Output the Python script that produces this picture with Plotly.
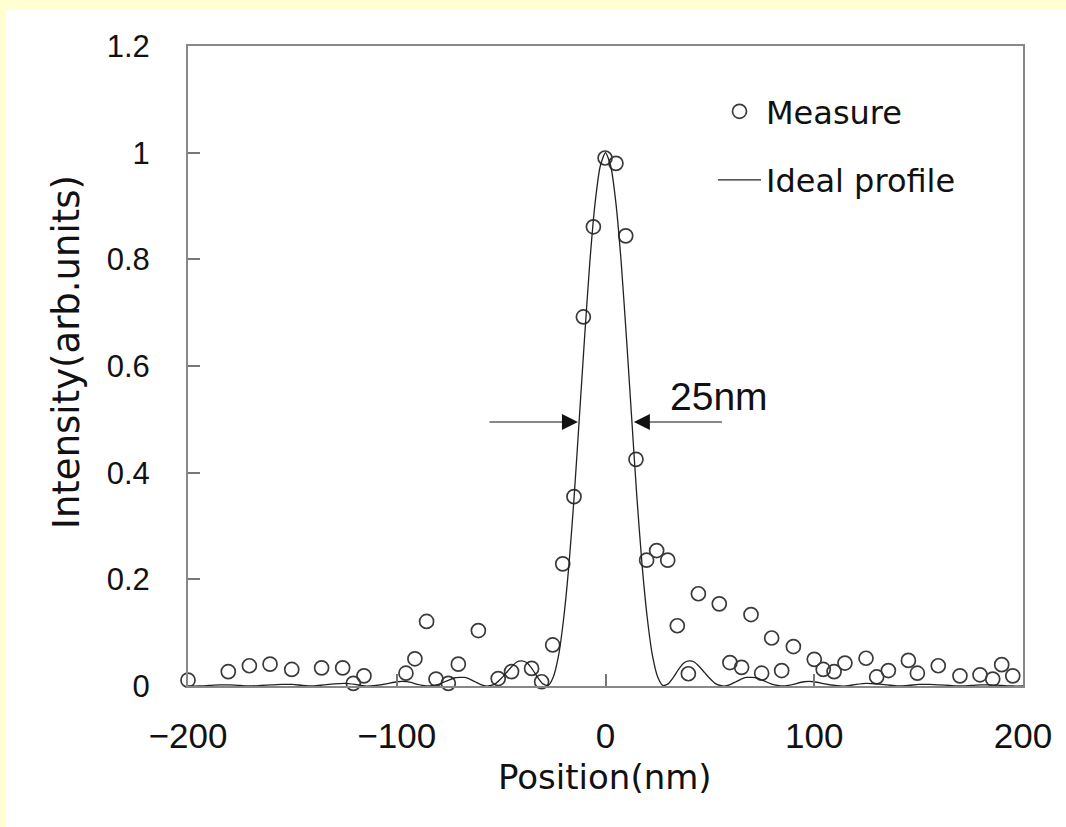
import plotly.graph_objects as go

# ---- Data ----
measure_x = [-200, -180.7, -170.6, -160.7, -150.3, -136, -125.9, -120.8, -115.7,
             -95.6, -91.3, -85.7, -81.2, -75.3, -70.5, -60.9, -51.4, -45, -35.4,
             -30.6, -25.3, -20.5, -15.1, -10.6, -5.8, -0.2, 5.0, 9.7, 14.6, 19.7,
             24.5, 29.8, 34.4, 39.7, 44.5, 54.5, 59.6, 65.2, 69.7, 74.8, 79.6,
             84.4, 90.0, 100.0, 104.3, 109.5, 114.7, 124.8, 129.9, 135.5, 145.1,
             149.4, 159.4, 169.8, 179.4, 185.5, 189.8, 195.1]
measure_y = [0.011, 0.027, 0.038, 0.041, 0.031, 0.034, 0.034, 0.005, 0.019,
             0.024, 0.051, 0.121, 0.013, 0.005, 0.041, 0.104, 0.014, 0.027, 0.033,
             0.008, 0.077, 0.229, 0.355, 0.692, 0.861, 0.990, 0.980, 0.844, 0.425, 0.236,
             0.254, 0.236, 0.113, 0.023, 0.173, 0.154, 0.044, 0.035, 0.134, 0.024, 0.090,
             0.029, 0.074, 0.050, 0.031, 0.027, 0.043, 0.052, 0.017, 0.029, 0.048,
             0.024, 0.038, 0.019, 0.021, 0.013, 0.040, 0.019]

ideal_x_pos = [0, 2.5, 5, 7.5, 10, 12.5, 15, 17.5, 20, 22.5, 25, 27.5, 30, 32.5, 35,
               37.5, 40, 42.5, 45, 47.5, 50, 52.5, 55, 57.5, 60, 62.5, 65, 67.5, 70,
               72.5, 75, 77.5, 80, 82.5, 85, 87.5, 90, 95, 100, 105, 110, 115, 120,
               125, 130, 135, 140, 145, 150, 155, 160, 165, 170, 175, 180, 185, 190,
               195, 200]
ideal_y_pos = [1.000, 0.975, 0.905, 0.795, 0.655, 0.505, 0.356, 0.228, 0.128, 0.057,
               0.017, 0.001, 0.004, 0.016, 0.031, 0.043, 0.047, 0.045, 0.036, 0.025,
               0.014, 0.005, 0.001, 0.000, 0.003, 0.008, 0.013, 0.016, 0.016, 0.015,
               0.011, 0.007, 0.003, 0.001, 0.000, 0.001, 0.003, 0.008, 0.008, 0.004,
               0.001, 0.000, 0.003, 0.005, 0.004, 0.002, 0.000, 0.001, 0.003, 0.003,
               0.002, 0.001, 0.000, 0.001, 0.002, 0.002, 0.001, 0.000, 0.000]

ideal_x = [-v for v in ideal_x_pos[:0:-1]] + ideal_x_pos
ideal_y = ideal_y_pos[:0:-1] + ideal_y_pos

x_ticks = [-200, -100, 0, 100, 200]
y_ticks = [0, 0.2, 0.4, 0.6, 0.8, 1.0, 1.2]

x_title = "Position(nm)"
y_title = "Intensity(arb.units)"
fwhm_left, fwhm_right, fwhm_level = -13.2, 13.6, 0.495
fwhm_label = "25nm"

TICKFONT = "Liberation Sans, Arial, sans-serif"
TEXTFONT = "DejaVu Sans, sans-serif"
INK = "#111111"
PAGE_YELLOW = "#FFFFD2"

fig = go.Figure()
fig.add_trace(go.Scatter(
    x=measure_x, y=measure_y, mode="markers", name="Measure",
    legendgroup="a",
    marker=dict(symbol="circle-open", size=14, color="#3a3a3a",
                line=dict(width=1.7, color="#3a3a3a")),
    cliponaxis=False,
))
fig.add_trace(go.Scatter(
    x=ideal_x, y=ideal_y, mode="lines", name="Ideal profile",
    legendgroup="b",
    line=dict(color="#222222", width=1.3, shape="spline", smoothing=0.6),
    cliponaxis=False,
))

# FWHM arrows
fig.add_annotation(x=fwhm_left, y=fwhm_level, ax=-56.3, ay=fwhm_level,
                   xref="x", yref="y", axref="x", ayref="y", text="",
                   showarrow=True, arrowhead=2, arrowsize=3.2, arrowwidth=1,
                   arrowcolor=INK)
fig.add_annotation(x=fwhm_right, y=fwhm_level, ax=56.5, ay=fwhm_level,
                   xref="x", yref="y", axref="x", ayref="y", text="",
                   showarrow=True, arrowhead=2, arrowsize=3.2, arrowwidth=1,
                   arrowcolor=INK)
fig.add_annotation(x=29.7, y=0.542, xref="x", yref="y", text=fwhm_label,
                   showarrow=False, xanchor="left", yanchor="middle",
                   font=dict(family=TICKFONT, size=39, color=INK))

# axis titles
fig.add_annotation(x=(604.5 - 188) / 835, y=(686 - 777) / 640, xref="paper", yref="paper",
                   text=x_title, showarrow=False, xanchor="center", yanchor="middle",
                   font=dict(family=TEXTFONT, size=34, color=INK))
fig.add_annotation(x=(66 - 188) / 835, y=(686 - 352) / 640, xref="paper", yref="paper",
                   text=y_title, showarrow=False, xanchor="center", yanchor="middle",
                   textangle=-90, font=dict(family=TEXTFONT, size=37, color=INK))

# pale-yellow page border (top and left bands)
fig.add_shape(type="rect", xref="paper", yref="paper",
              x0=(0 - 188) / 835, x1=(1066 - 188) / 835,
              y0=(686 - 10) / 640, y1=(686 - 0) / 640,
              fillcolor=PAGE_YELLOW, line=dict(width=0), layer="below")
fig.add_shape(type="rect", xref="paper", yref="paper",
              x0=(0 - 188) / 835, x1=(6 - 188) / 835,
              y0=(686 - 827) / 640, y1=(686 - 0) / 640,
              fillcolor=PAGE_YELLOW, line=dict(width=0), layer="below")

fig.update_layout(
    width=1066, height=827,
    margin=dict(l=188, r=43, t=46, b=141),
    paper_bgcolor="white",
    plot_bgcolor="white",
    font=dict(family=TEXTFONT, color=INK),
    showlegend=True,
    legend=dict(x=(713 - 188) / 835, y=(686 - 84) / 640, xanchor="left", yanchor="top",
                bgcolor="rgba(0,0,0,0)", font=dict(family=TEXTFONT, size=32, color=INK),
                tracegroupgap=24, itemwidth=43),
)
fig.update_xaxes(
    range=[-200, 200], tickvals=x_ticks, ticks="inside", ticklen=12,
    tickcolor="#777777", tickwidth=1.5,
    showline=True, linecolor="#888888", linewidth=2, mirror=True,
    showgrid=False, zeroline=False,
    tickfont=dict(family=TICKFONT, size=35, color=INK),
    ticklabelstandoff=18,
)
fig.update_yaxes(
    range=[0, 1.2], tickvals=y_ticks, ticks="inside", ticklen=12,
    tickcolor="#777777", tickwidth=1.5,
    showline=True, linecolor="#888888", linewidth=2, mirror=True,
    showgrid=False, zeroline=False,
    tickfont=dict(family=TICKFONT, size=31, color=INK),
    ticklabelstandoff=30,
)

fig.write_html("out.html",
               config={"displayModeBar": False},
               post_script="document.body.style.margin='0px';"
                           "document.body.style.overflow='hidden';"
                           "document.body.style.background='white';")
